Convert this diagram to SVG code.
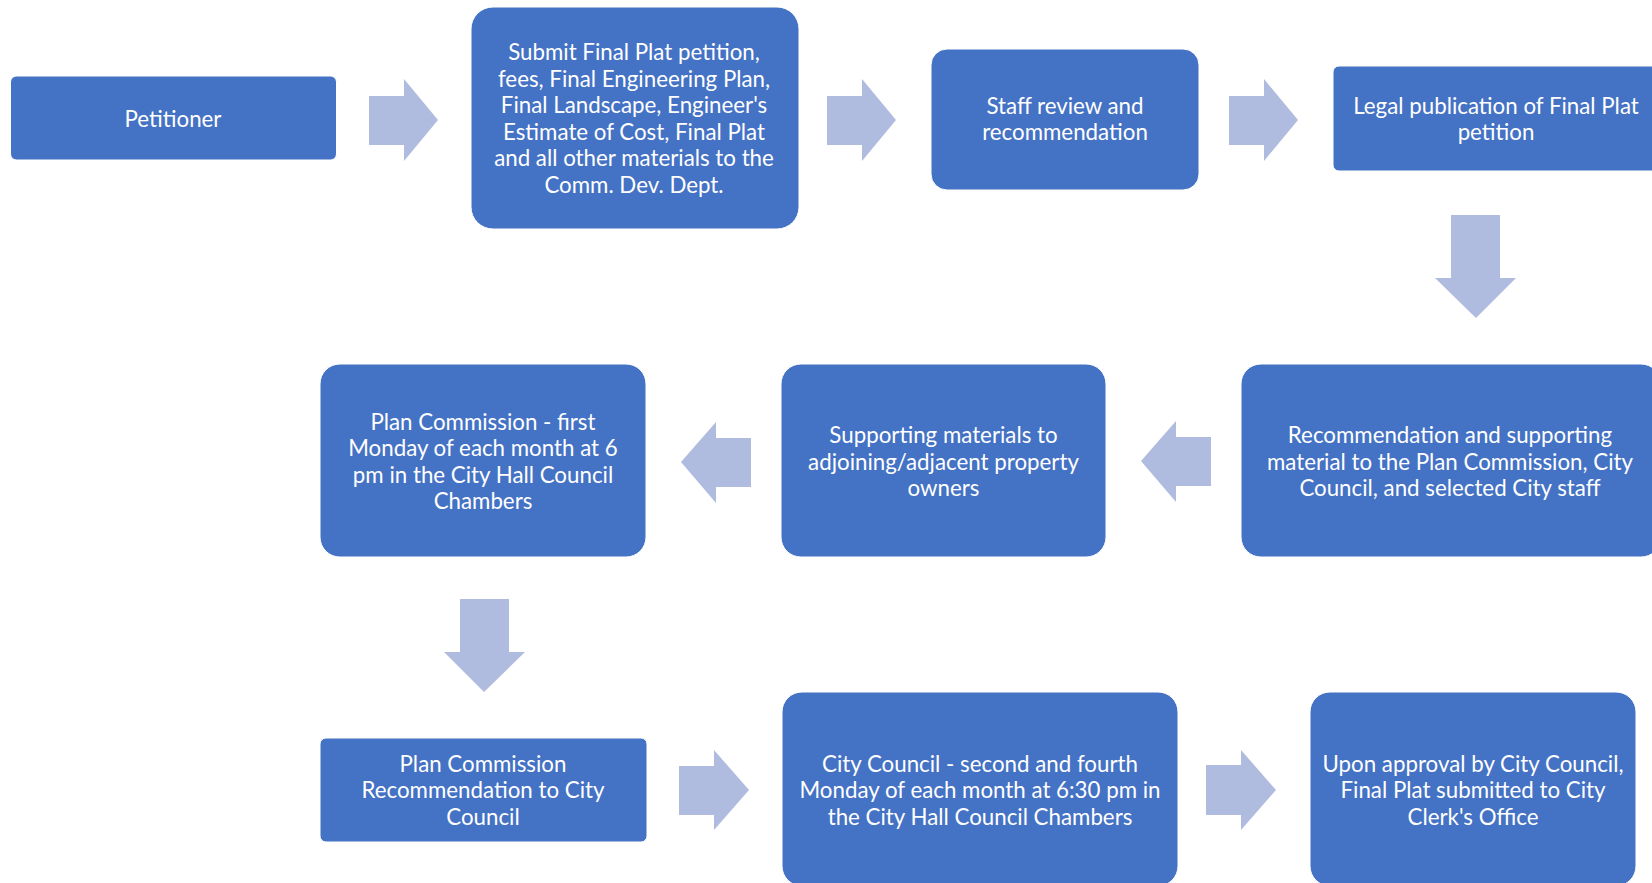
<svg xmlns="http://www.w3.org/2000/svg" width="1652" height="883" viewBox="0 0 1652 883">
<style>
.box{fill:#4472C4;stroke:#ffffff;stroke-width:1}
.arr{fill:#B0BCDF}
.t{font-family:Lato,"Open Sans","Liberation Sans",sans-serif;font-size:22.3px;fill:#ffffff;text-anchor:middle}
</style>
<rect width="1652" height="883" fill="#ffffff"/>
<g id="connectors">
<polygon class="arr" points="369,96 404,96 404,79 438,120 404,161 404,145 369,145"/>
<polygon class="arr" points="827,96 862,96 862,79 896,120 862,161 862,145 827,145"/>
<polygon class="arr" points="1229,96 1264,96 1264,79 1298,120 1264,161 1264,145 1229,145"/>
<polygon class="arr" points="1451,215 1500,215 1500,278 1516,278 1476,318 1435,278 1451,278"/>
<polygon class="arr" points="1211,437 1176,437 1176,421 1141,461 1176,502 1176,486 1211,486"/>
<polygon class="arr" points="751,438 716,438 716,422 681,462 716,503 716,487 751,487"/>
<polygon class="arr" points="460,599 509,599 509,652 525,652 484,692 444,652 460,652"/>
<polygon class="arr" points="679,766 714,766 714,750 749,790 714,830 714,815 679,815"/>
<polygon class="arr" points="1206,765 1241,765 1241,750 1276,790 1241,830 1241,815 1206,815"/>
</g>
<g id="n1"><rect class="box" x="10.5" y="76" width="326" height="84" rx="6"/>
<text class="t" x="173" y="126.5">Petitioner</text></g>
<g id="n2"><rect class="box" x="471" y="7" width="328" height="222" rx="22"/>
<text class="t" x="634"><tspan x="634" y="59.5">Submit Final Plat petition,</tspan><tspan x="634" y="86.5">fees, Final Engineering Plan,</tspan><tspan x="634" y="112.5">Final Landscape, Engineer's</tspan><tspan x="634" y="139.5">Estimate of Cost, Final Plat</tspan><tspan x="634" y="165.5">and all other materials to the</tspan><tspan x="634" y="192.5">Comm. Dev. Dept.</tspan></text></g>
<g id="n3"><rect class="box" x="931" y="49" width="268" height="141" rx="16"/>
<text class="t" x="1065"><tspan x="1065" y="113.5">Staff review and</tspan><tspan x="1065" y="139.5">recommendation</tspan></text></g>
<g id="n4"><rect class="box" x="1333" y="66" width="330" height="105" rx="6"/>
<text class="t" x="1496"><tspan x="1496" y="113.5">Legal publication of Final Plat</tspan><tspan x="1496" y="139.5">petition</tspan></text></g>
<g id="n5"><rect class="box" x="1241" y="364" width="420" height="193" rx="20"/>
<text class="t" x="1450"><tspan x="1450" y="442.5">Recommendation and supporting</tspan><tspan x="1450" y="469.5">material to the Plan Commission, City</tspan><tspan x="1450" y="495.5">Council, and selected City staff</tspan></text></g>
<g id="n6"><rect class="box" x="781" y="364" width="325" height="193" rx="20"/>
<text class="t" x="943.5"><tspan x="943.5" y="442.5">Supporting materials to</tspan><tspan x="943.5" y="469.5">adjoining/adjacent property</tspan><tspan x="943.5" y="495.5">owners</tspan></text></g>
<g id="n7"><rect class="box" x="320" y="364" width="326" height="193" rx="20"/>
<text class="t" x="483"><tspan x="483" y="429.5">Plan Commission - first</tspan><tspan x="483" y="455.5">Monday of each month at 6</tspan><tspan x="483" y="482.5">pm in the City Hall Council</tspan><tspan x="483" y="508.5">Chambers</tspan></text></g>
<g id="n8"><rect class="box" x="320" y="738" width="327" height="104" rx="6"/>
<text class="t" x="483"><tspan x="483" y="771.5">Plan Commission</tspan><tspan x="483" y="797.5">Recommendation to City</tspan><tspan x="483" y="824.5">Council</tspan></text></g>
<g id="n9"><rect class="box" x="782" y="692" width="396" height="194" rx="20"/>
<text class="t" x="980"><tspan x="980" y="771.5">City Council - second and fourth</tspan><tspan x="980" y="797.5">Monday of each month at 6:30 pm in</tspan><tspan x="980" y="824.5">the City Hall Council Chambers</tspan></text></g>
<g id="n10"><rect class="box" x="1310" y="692" width="326" height="194" rx="20"/>
<text class="t" x="1473"><tspan x="1473" y="771.5">Upon approval by City Council,</tspan><tspan x="1473" y="797.5">Final Plat submitted to City</tspan><tspan x="1473" y="824.5">Clerk's Office</tspan></text></g>
</svg>
